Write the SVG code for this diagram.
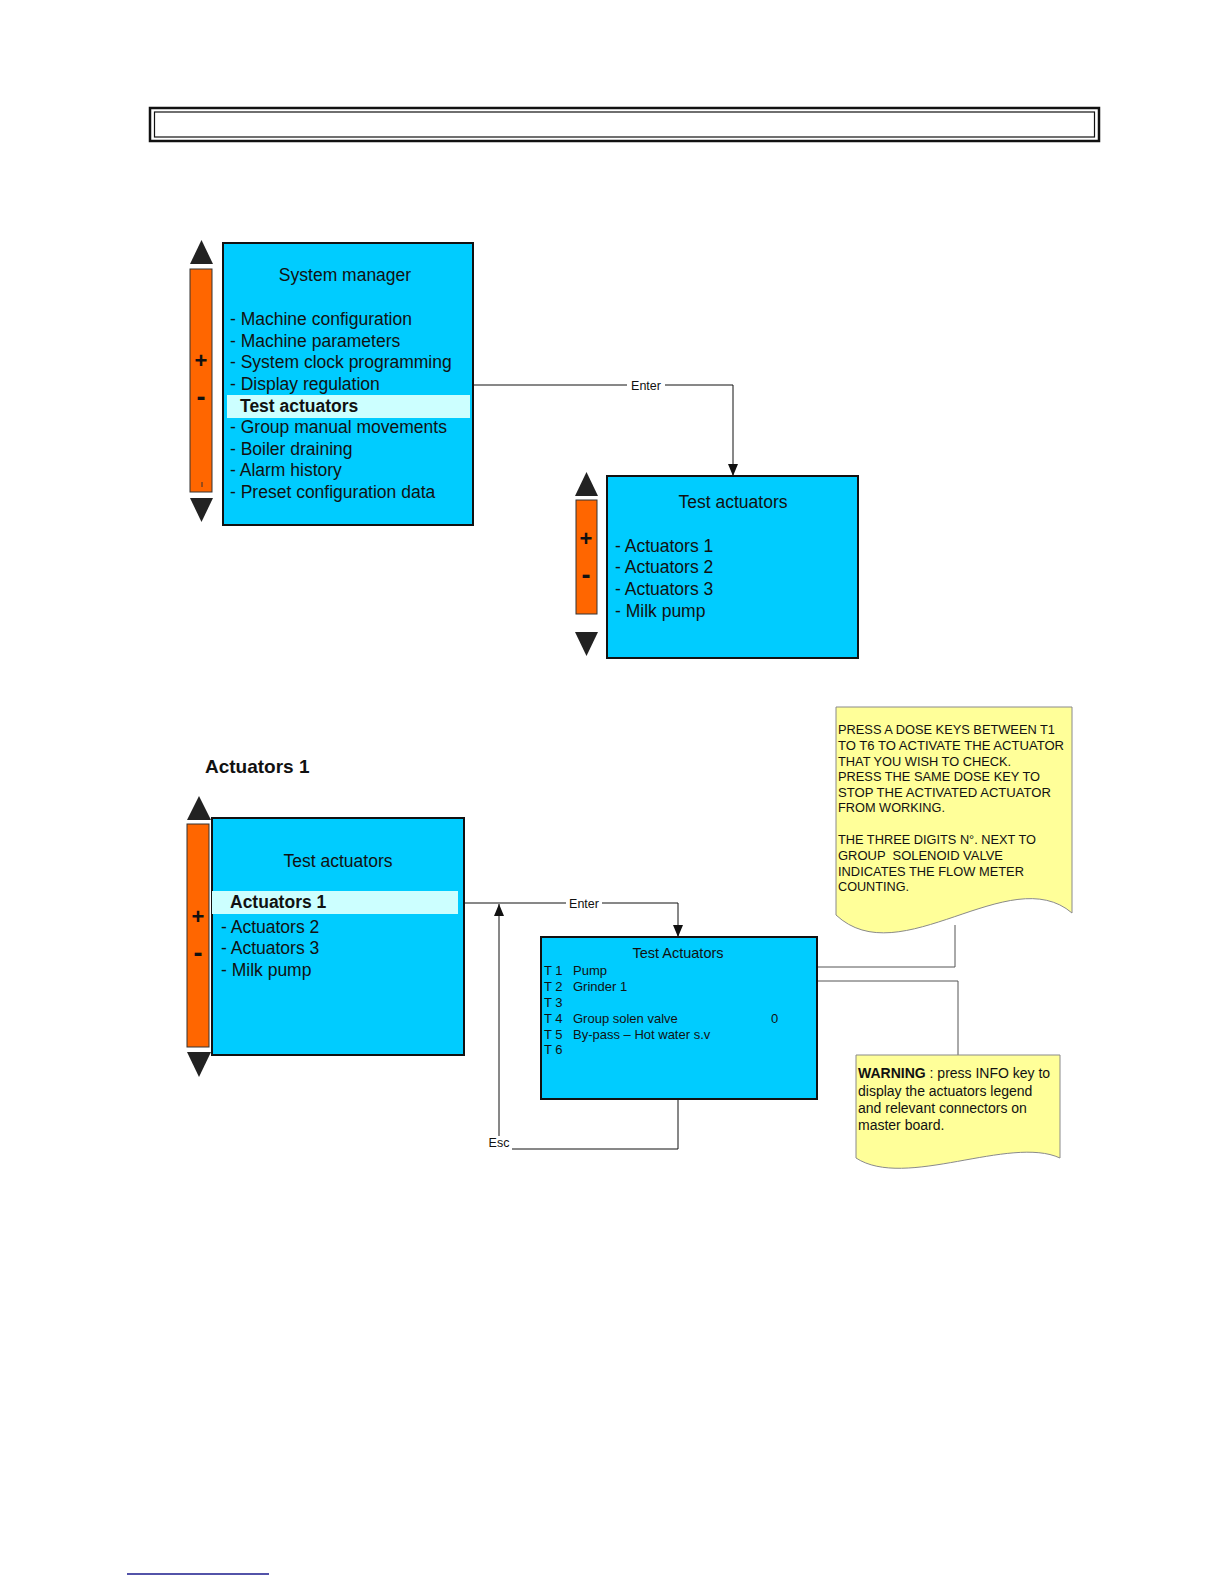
<svg xmlns="http://www.w3.org/2000/svg" width="1224" height="1584" viewBox="0 0 1224 1584">
<defs>
<style>
text{font-family:"Liberation Sans",Arial,sans-serif;fill:#111}
.box{fill:#00ccff;stroke:#111;stroke-width:2}
.hl{fill:#ccffff}
.bar{fill:#ff6600;stroke:#333;stroke-width:1}
.tri{fill:#222}
.pm{font-size:22px;font-weight:bold;text-anchor:middle}
.mn{font-size:27px;font-weight:bold;text-anchor:middle}
.t18{font-size:17.5px}
.t13{font-size:13px}
.note{fill:#ffff99;stroke:#8a8a8a;stroke-width:1}
.nt{font-size:12.3px}
.nt2{font-size:14px}
.con{fill:none;stroke:#111;stroke-width:1}
.con2{fill:none;stroke:#555;stroke-width:1}
.lbl{font-size:12.5px}
</style>
<marker id="arr" viewBox="0 0 12 10" refX="12" refY="5" markerWidth="13" markerHeight="10" markerUnits="userSpaceOnUse" orient="auto">
<path d="M0,0 L12,5 L0,10 Z" fill="#111"/>
</marker>
</defs>

<g id="title-frame">
<rect x="150" y="108" width="949" height="33" fill="none" stroke="#111" stroke-width="2.5"/>
<rect x="154.5" y="112" width="940" height="25" fill="none" stroke="#111" stroke-width="1.2"/>
</g>

<g id="connectors">
<polyline class="con" points="473,385 733,385 733,476" marker-end="url(#arr)"/>
<rect x="627" y="378" width="38" height="14" fill="#fff"/>
<text class="lbl" x="646" y="389.5" text-anchor="middle">Enter</text>

<polyline class="con" points="458,903 678,903 678,937" marker-end="url(#arr)"/>
<rect x="566" y="896" width="36" height="14" fill="#fff"/>
<text class="lbl" x="584" y="907.5" text-anchor="middle">Enter</text>

<polyline class="con" points="678,1099 678,1149 499,1149 499,904" marker-end="url(#arr)"/>
<rect x="486" y="1136" width="26" height="14" fill="#fff"/>
<text class="lbl" x="499" y="1147" text-anchor="middle">Esc</text>

<polyline class="con2" points="955,925 955,967 817,967"/>
<polyline class="con2" points="817,981 958,981 958,1055"/>
</g>

<g id="system-manager">
<polygon class="tri" points="201.5,240 190,264 213,264"/>
<rect class="bar" x="190" y="269" width="22" height="223"/>
<polygon class="tri" points="190,498 213,498 201.5,522"/>
<text class="pm" x="201" y="368">+</text>
<text class="mn" x="201" y="406">-</text>
<line x1="202" y1="482" x2="202" y2="487" stroke="#333" stroke-width="1"/>
<rect class="box" x="223" y="243" width="250" height="282"/>
<rect class="hl" x="227" y="395" width="243" height="23"/>
<text class="t18" x="345" y="281" text-anchor="middle">System manager</text>
<text class="t18" x="230" y="325">- Machine configuration</text>
<text class="t18" x="230" y="346.5">- Machine parameters</text>
<text class="t18" x="230" y="368">- System clock programming</text>
<text class="t18" x="230" y="390">- Display regulation</text>
<text class="t18" x="240" y="411.5" font-weight="bold">Test actuators</text>
<text class="t18" x="230" y="433">- Group manual movements</text>
<text class="t18" x="230" y="455">- Boiler draining</text>
<text class="t18" x="230" y="476">- Alarm history</text>
<text class="t18" x="230" y="498">- Preset configuration data</text>
</g>

<g id="test-actuators-menu">
<polygon class="tri" points="586.5,472 575,496 598,496"/>
<rect class="bar" x="576" y="500" width="21" height="114"/>
<polygon class="tri" points="575,632 598,632 586.5,656"/>
<text class="pm" x="586" y="546">+</text>
<text class="mn" x="586" y="584">-</text>
<rect class="box" x="607" y="476" width="251" height="182"/>
<text class="t18" x="733" y="508" text-anchor="middle">Test actuators</text>
<text class="t18" x="615" y="552">- Actuators 1</text>
<text class="t18" x="615" y="573">- Actuators 2</text>
<text class="t18" x="615" y="595">- Actuators 3</text>
<text class="t18" x="615" y="617">- Milk pump</text>
</g>

<g id="heading">
<text x="205" y="773" font-size="19" font-weight="bold">Actuators 1</text>
</g>

<g id="actuators1-menu">
<polygon class="tri" points="199,796 187,820 211,820"/>
<rect class="bar" x="187" y="824" width="22" height="223"/>
<polygon class="tri" points="187,1052 211,1052 199,1077"/>
<text class="pm" x="198" y="924">+</text>
<text class="mn" x="198" y="962">-</text>
<rect class="box" x="212" y="818" width="252" height="237"/>
<rect class="hl" x="212" y="891" width="246" height="23"/>
<text class="t18" x="338" y="867" text-anchor="middle">Test actuators</text>
<text class="t18" x="230" y="908" font-weight="bold">Actuators 1</text>
<text class="t18" x="221" y="933">- Actuators 2</text>
<text class="t18" x="221" y="954">- Actuators 3</text>
<text class="t18" x="221" y="976">- Milk pump</text>
</g>

<g id="test-actuators-display">
<rect class="box" x="541" y="937" width="276" height="162"/>
<text x="678" y="958" font-size="14.5" text-anchor="middle">Test Actuators</text>
<text class="t13" x="544" y="975">T 1</text><text class="t13" x="573" y="975">Pump</text>
<text class="t13" x="544" y="991">T 2</text><text class="t13" x="573" y="991">Grinder 1</text>
<text class="t13" x="544" y="1007">T 3</text>
<text class="t13" x="544" y="1023">T 4</text><text class="t13" x="573" y="1023">Group solen valve</text><text class="t13" x="771" y="1023">0</text>
<text class="t13" x="544" y="1039">T 5</text><text class="t13" x="573" y="1039">By-pass – Hot water s.v</text>
<text class="t13" x="544" y="1054">T 6</text>
</g>

<g id="note-instructions">
<path class="note" d="M836,707 H1072 V913 C1010,860 900,975 836,915 Z"/>
<text class="nt" x="838" y="734" textLength="217" lengthAdjust="spacingAndGlyphs">PRESS A DOSE KEYS BETWEEN T1</text>
<text class="nt" x="838" y="750" textLength="226" lengthAdjust="spacingAndGlyphs">TO T6 TO ACTIVATE THE ACTUATOR</text>
<text class="nt" x="838" y="765.5" textLength="173" lengthAdjust="spacingAndGlyphs">THAT YOU WISH TO CHECK.</text>
<text class="nt" x="838" y="781" textLength="202" lengthAdjust="spacingAndGlyphs">PRESS THE SAME DOSE KEY TO</text>
<text class="nt" x="838" y="796.5" textLength="213" lengthAdjust="spacingAndGlyphs">STOP THE ACTIVATED ACTUATOR</text>
<text class="nt" x="838" y="812" textLength="107" lengthAdjust="spacingAndGlyphs">FROM WORKING.</text>
<text class="nt" x="838" y="844" textLength="198" lengthAdjust="spacingAndGlyphs">THE THREE DIGITS N°. NEXT TO</text>
<text class="nt" x="838" y="860" textLength="165" lengthAdjust="spacingAndGlyphs" xml:space="preserve">GROUP  SOLENOID VALVE</text>
<text class="nt" x="838" y="875.5" textLength="186" lengthAdjust="spacingAndGlyphs">INDICATES THE FLOW METER</text>
<text class="nt" x="838" y="891" textLength="71" lengthAdjust="spacingAndGlyphs">COUNTING.</text>
</g>

<g id="note-warning">
<path class="note" d="M856,1055 H1060 V1158 C1010,1135 905,1190 856,1158 Z"/>
<text class="nt2" x="858" y="1078"><tspan font-weight="bold">WARNING</tspan> : press INFO key to</text>
<text class="nt2" x="858" y="1095.5">display the actuators legend</text>
<text class="nt2" x="858" y="1113">and relevant connectors on</text>
<text class="nt2" x="858" y="1130">master board.</text>
</g>

<g id="footer-line">
<line x1="127" y1="1574" x2="269" y2="1574" stroke="#1a1a8c" stroke-width="1.5"/>
</g>
</svg>
